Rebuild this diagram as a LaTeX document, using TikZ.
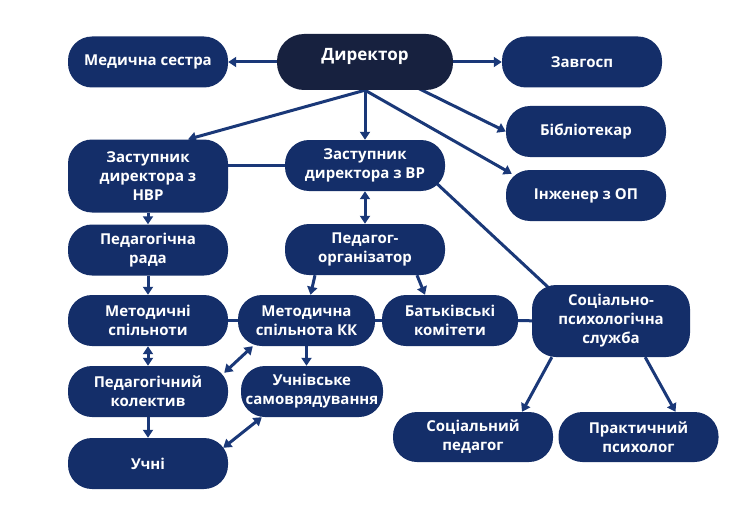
\documentclass[tikz,border=0pt]{standalone}
\usepackage{fontspec}
\setmainfont{Open Sans}
\usetikzlibrary{arrows.meta,backgrounds}
\definecolor{navy}{HTML}{142E69}
\definecolor{darknavy}{HTML}{17213F}
\definecolor{wire}{HTML}{1A3878}
\tikzset{
	unit/.style={fill=navy, text=white, rounded corners=24pt, minimum width=160pt, minimum height=51pt, inner sep=0pt, align=center, font=\fontsize{15}{19}\selectfont\bfseries},
	boss/.style={unit, fill=darknavy, rounded corners=27pt, minimum width=176pt, minimum height=56pt, text depth=15pt, font=\fontsize{17}{20}\selectfont\bfseries},
	link/.style={line width=3pt, color=wire},
	arr/.style={link, -{Triangle[width=10pt,length=8pt]}},
	biarr/.style={link, {Triangle[width=10pt,length=8pt]}-{Triangle[width=10pt,length=8pt]}},
}
\begin{document}
\begin{tikzpicture}[x=1pt, y=-1pt]
		%%%%% START %%%%%
		\useasboundingbox (0, 0) rectangle (730, 516);
		
		\node[boss] (dir) at (365, 62) {Директор};
		\node[unit] (med) at (148, 62) {Медична сестра};
		\node[unit] (zav) at (582, 62) {Завгосп};
		\node[unit] (bib) at (586, 131.5) {Бібліотекар};
		\node[unit] (ing) at (586, 195.5) {Інженер з ОП};
		
		\node[unit, minimum height=73pt] (znvr) at (148, 176) {Заступник\\директора з\\НВР};
		\node[unit] (zvr) at (365, 165.5) {Заступник\\директора з ВР};
		\node[unit] (prada) at (148, 250) {Педагогічна\\рада};
		\node[unit] (porg) at (365, 249.5) {Педагог-\\організатор};
		
		\node[unit] (msp) at (148, 320.5) {Методичні\\спільноти};
		\node[unit, minimum width=137pt] (mkk) at (306.5, 320.5) {Методична\\спільнота КК};
		\node[unit, minimum width=136pt] (bat) at (450, 320.5) {Батьківські\\комітети};
		\node[unit, minimum width=158pt, minimum height=72pt] (sps) at (611, 321) {Соціально-\\психологічна\\служба};
		
		\node[unit] (pkol) at (148, 391.5) {Педагогічний\\колектив};
		\node[unit, minimum width=142pt] (usam) at (312, 391.5) {Учнівське\\самоврядування};
		\node[unit] (uchni) at (148, 463.5) {Учні};
		\node[unit, minimum height=50pt] (sped) at (473, 437) {Соціальний\\педагог};
		\node[unit, minimum height=50pt] (ppsy) at (638.5, 437) {Практичний\\психолог};
		
		\begin{scope}[on background layer]
		\draw[arr] (dir) -- (med);
		\draw[arr] (dir) -- (zav);
		\draw[arr] (dir.center) -- (bib.west);
		\draw[arr] (dir.south) -- ([xshift=6pt, yshift=-4pt]ing.north west);
		\draw[arr] (dir) -- (zvr);
		\draw[arr] (dir.south) -- ([xshift=40pt]znvr.north);
		
		\draw[link] (zvr.west) -- (zvr.west -| znvr.east);
		\draw[link] ([xshift=-12pt, yshift=11pt]zvr.south east) -- ([xshift=18pt, yshift=-4pt]sps.north west);
		\draw[biarr] (zvr) -- (porg);
		\draw[arr] (znvr) -- (prada);
		\draw[arr] (prada) -- (msp);
		\draw[arr] ([xshift=-50pt]porg.south) -- ([xshift=4pt]mkk.north);
		\draw[arr] ([xshift=52pt]porg.south) -- ([xshift=-25pt]bat.north);
		
		\draw[link] (msp) -- (mkk);
		\draw[link] (mkk) -- (bat);
		\draw[link] (bat) -- (sps);
		\draw[biarr] (msp) -- (pkol);
		\draw[biarr] ([xshift=15pt]mkk.south west) -- ([xshift=-4pt, yshift=-7pt]pkol.north east);
		\draw[arr] (mkk.south) -- (mkk.south |- usam.north);
		\draw[arr] (pkol) -- (uchni);
		\draw[biarr] ([xshift=21pt]usam.south west) -- ([xshift=-5pt, yshift=-10pt]uchni.north east);
		\draw[arr] ([xshift=20pt]sps.south west) -- ([xshift=49pt]sped.north);
		\draw[arr] ([xshift=-45pt]sps.south east) -- ([xshift=37pt]ppsy.north);
		\end{scope}
		%%%%% END %%%%%
\end{tikzpicture}
\end{document}
